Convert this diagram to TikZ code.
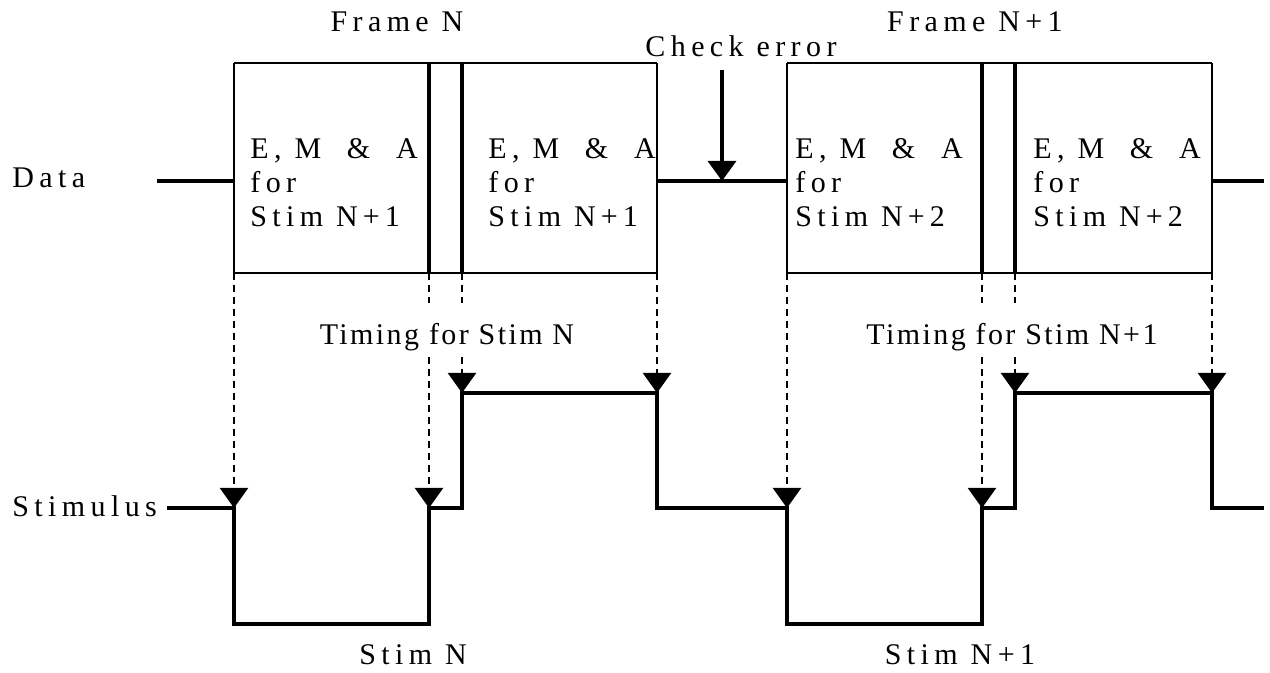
\documentclass[tikz,border=0pt]{standalone}
\usepackage{fontspec}
\setmainfont{Liberation Serif}
\usetikzlibrary{arrows.meta}

\begin{document}
\begin{tikzpicture}[x=0.5pt,y=-0.5pt,line join=miter,>={Triangle[width=14pt,length=10pt]},
  every node/.style={inner sep=0pt,font=\fontsize{15}{17}\selectfont\addfontfeature{LetterSpace=18}},
  sig/.style={line width=1.7pt},
  guide/.style={->,line width=1.1pt,dash pattern=on 3.5pt off 2.5pt},
  boxline/.style={line width=0.75pt},
  divider/.style={line width=1.7pt},
  boxtext/.style={anchor=north west,align=left},
  timing/.style={fill=white,inner ysep=2pt,text height=19pt,text depth=4pt,anchor=base,
    font=\fontsize{15}{17}\selectfont\addfontfeature{LetterSpace=8}}]
  \useasboundingbox (0,0) rectangle (1270,673);
  % frames
  \foreach \a/\b/\c/\d in {234/429/462/657,787/982/1015/1212} {
    \draw[boxline] (\a,63) -- (\d,63) (\a,273) -- (\d,273);
    \draw[line width=1.1pt] (\a,63) -- (\a,273) (\d,63) -- (\d,273);
    \draw[divider] (\b,63) -- (\b,273) (\c,63) -- (\c,273);
  }
  \foreach \x/\n/\k in {250/1/1,488/1/2,795/2/3,1033/2/4}
    \node[boxtext] (ema\k) at (\x,138) {E, M\ \ \&\ \ A\\for\\Stim N\,+\,\n};
  % data line
  \draw[sig] (157,181) -- (234,181) (657,181) -- (787,181) (1212,181) -- (1264,181);
  \draw[sig,->] (722,70) -- (722,181);
  % stimulus
  \draw[sig] (167,508) -- (234,508) -- (234,624) -- (429,624) -- (429,508) -- (462,508)
    -- (462,393) -- (657,393) -- (657,508) -- (787,508) -- (787,624) -- (982,624)
    -- (982,508) -- (1015,508) -- (1015,393) -- (1212,393) -- (1212,508) -- (1264,508);
  \foreach \x/\y in {234/508,429/508,462/393,657/393,787/508,982/508,1015/393,1212/393}
    \draw[guide] (\x,273) -- (\x,\y);
  % labels
  \node[anchor=base] (frameN) at (397,32) {Frame N};
  \node[anchor=base] (frameN1) at (975,32) {Frame N+1};
  \node[anchor=base] (check) at (741,57) {Check error};
  \node[anchor=base west] (data) at (12,188) {Data};
  \node[anchor=base west] (stimulus) at (12,517) {Stimulus};
  \node[anchor=base] (stimN) at (413,665) {Stim N};
  \node[anchor=base] (stimN1) at (960,665) {Stim N+1};
  \node[timing] (timN) at (447,345) {Timing for Stim N};
  \node[timing] (timN1) at (1012,345) {Timing for Stim N+1};
\end{tikzpicture}
\end{document}
